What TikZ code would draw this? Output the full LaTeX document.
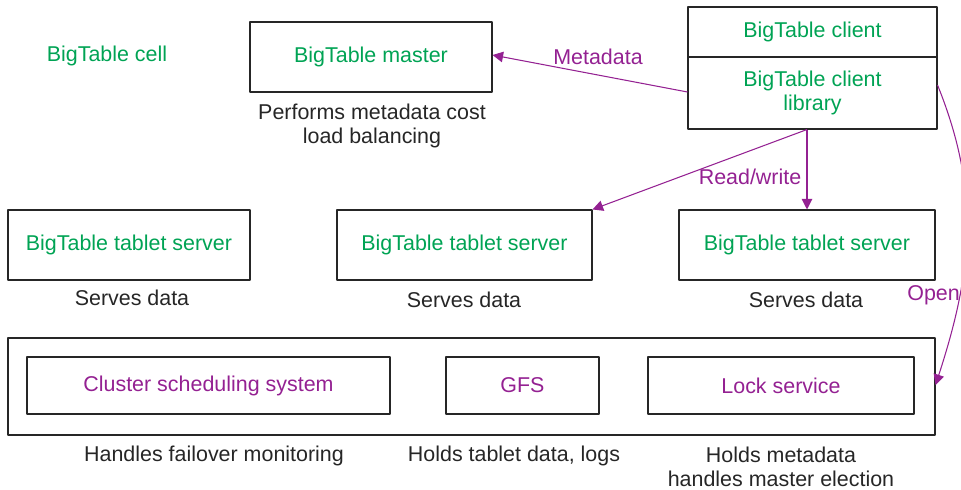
\documentclass[tikz,border=0pt]{standalone}
\usepackage{fontspec}
\setmainfont{Liberation Sans}
\usetikzlibrary{arrows.meta,positioning}
\definecolor{btgreen}{RGB}{0,163,84}
\definecolor{btpurple}{RGB}{148,33,146}
\begin{document}
\begin{tikzpicture}[x=0.02cm, y=-0.02cm, line join=round,
	font=\fontsize{12.2pt}{13.6pt}\selectfont,
	box/.style={draw=black!85, line width=0.6pt, inner sep=0pt, align=center},
	sz/.style 2 args={minimum width=#1*0.02cm, minimum height=#2*0.02cm},
	gbox/.style={box, text=btgreen},
	pbox/.style={box, text=btpurple},
	note/.style={text=black!85, align=center},
	flow/.style={draw=btpurple, line width=0.6pt, -{Triangle[length=6pt,width=6pt]}}]
	\useasboundingbox (0,0) rectangle (961,490);
	\node[text=btgreen] (cell) at (107,56) {BigTable cell};
	% master and client
	\node[gbox, sz={242}{70}] (master) at (371,57) {BigTable master};
	\node[note] (masternote) at (372,126) {Performs metadata cost\\load balancing};
	\node[gbox, sz={249}{50}] (client) at (812.5,32) {BigTable client};
	\node[gbox, sz={249}{72}] (clientlib) at (812.5,93) {BigTable client\\library};
	% tablet servers
	\node[gbox, sz={242}{70}] (ts1) at (129,245) {BigTable tablet server};
	\node[gbox, sz={255}{70}] (ts2) at (464.5,245) {BigTable tablet server};
	\node[gbox, sz={256}{70}] (ts3) at (807,245) {BigTable tablet server};
	\node[note] (ts1note) at (132,298) {Serves data};
	\node[note] (ts2note) at (464,300) {Serves data};
	\node[note] (ts3note) at (806,300) {Serves data};
	% shared services
	\node[box, sz={927}{97}] (infra) at (471.5,386.5) {};
	\node[pbox, sz={363}{57}] (sched) at (208.5,385.5) {Cluster scheduling system};
	\node[pbox, sz={153}{57}] (gfs) at (522.5,385.5) {GFS};
	\node[pbox, sz={266}{57}] (lock) at (781,385.5) {Lock service};
	\node[note] (schednote) at (214,456) {Handles failover monitoring};
	\node[note] (gfsnote) at (514,456) {Holds tablet data, logs};
	\node[note, inner sep=1pt] (locknote) at (781,467) {Holds metadata\\handles master election};
	% connectors
	\draw[flow] (clientlib.west |- 0,92) -- (master.east |- 0,55);
	\node[text=btpurple] (metalbl) at (598,57) {Metadata};
	\draw[flow] (clientlib.south -| 807,0) -- (ts3.north -| 807,0);
	\draw[flow] (clientlib.south -| 807,0) -- (ts2.north east);
	\node[text=btpurple] (rwlbl) at (750,177) {Read/write};
	\draw[flow] (clientlib.east |- 0,85) to[out=-68, in=72] (infra.east |- 0,385);
	\node[text=btpurple, anchor=west, inner sep=0pt] (openlbl) at (907,295) {Open};
\end{tikzpicture}
\end{document}
